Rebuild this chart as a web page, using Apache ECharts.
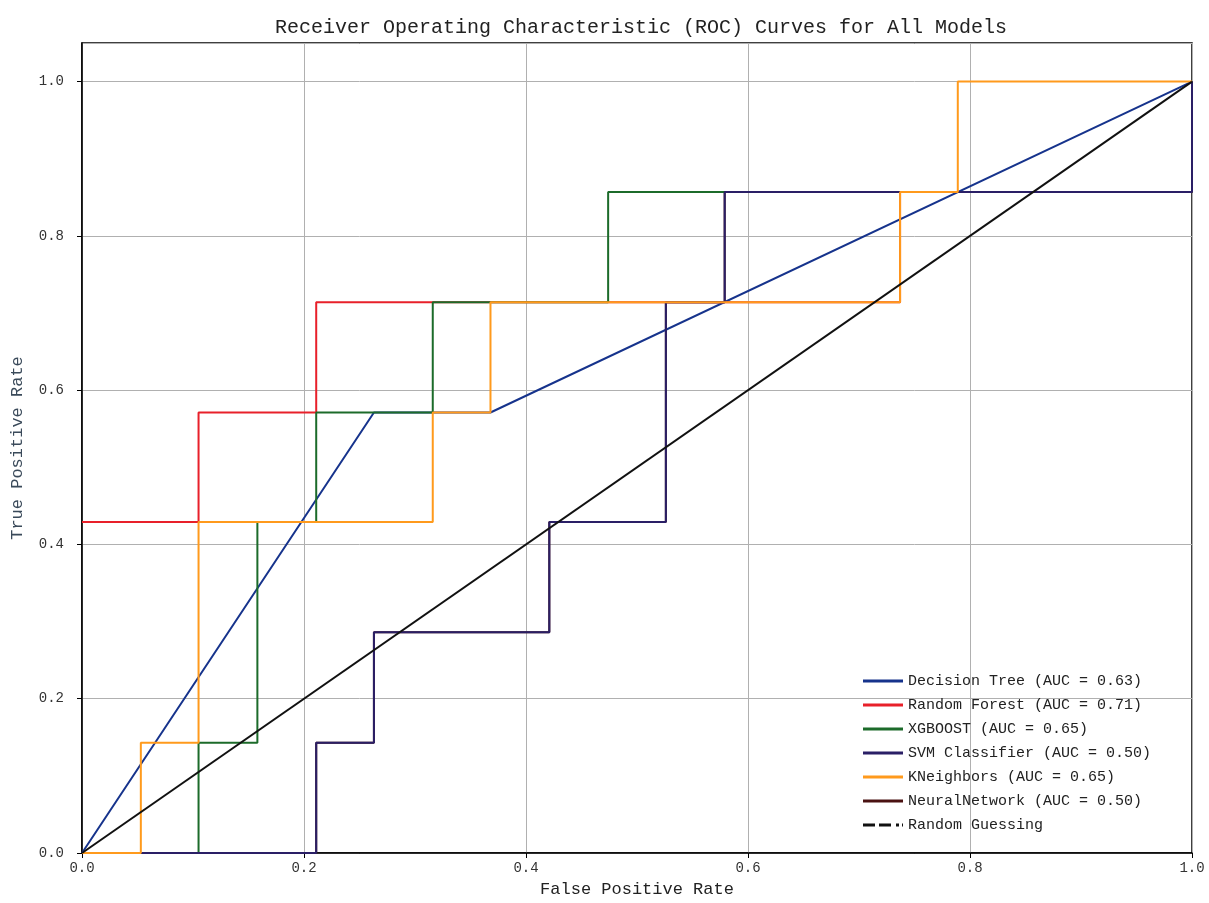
<!DOCTYPE html>
<html><head><meta charset="utf-8">
<script src="https://cdn.jsdelivr.net/npm/echarts@6/dist/echarts.min.js"></script>
<style>html,body{margin:0;padding:0;background:#fff}#c{width:1209px;height:903px}</style>
</head><body><div id="c"></div>
<script>
const titleText = 'Receiver Operating Characteristic (ROC) Curves for All Models';
const modelNames = ['Decision Tree (AUC = 0.63)','Random Forest (AUC = 0.71)','XGBOOST (AUC = 0.65)','SVM Classifier (AUC = 0.50)','KNeighbors (AUC = 0.65)','NeuralNetwork (AUC = 0.50)','Random Guessing'];
const modelColors = ['#16338c','#e8202a','#1c6b2a','#2a1f66','#ff9a1c','#4a1212','#111111'];

const dtFpr  = [0, 0.263, 0.368, 1];
const dtTpr  = [0, 0.571, 0.571, 1];
const rfFpr  = [0, 0.105, 0.105, 0.211, 0.211, 0.737, 0.737, 1, 1];
const rfTpr  = [0.429, 0.429, 0.571, 0.571, 0.714, 0.714, 0.857, 0.857, 1];
const xgbFpr = [0, 0.105, 0.105, 0.158, 0.158, 0.211, 0.211, 0.316, 0.316, 0.474, 0.474, 1, 1];
const xgbTpr = [0, 0, 0.143, 0.143, 0.429, 0.429, 0.571, 0.571, 0.714, 0.714, 0.857, 0.857, 1];
const svmFpr = [0, 0.211, 0.211, 0.263, 0.263, 0.421, 0.421, 0.526, 0.526, 0.579, 0.579, 1, 1];
const svmTpr = [0, 0, 0.143, 0.143, 0.286, 0.286, 0.429, 0.429, 0.714, 0.714, 0.857, 0.857, 1];
const knnFpr = [0, 0.053, 0.053, 0.105, 0.105, 0.316, 0.316, 0.368, 0.368, 0.737, 0.737, 0.789, 0.789, 1];
const knnTpr = [0, 0, 0.143, 0.143, 0.429, 0.429, 0.571, 0.571, 0.714, 0.714, 0.857, 0.857, 1, 1];
const nnFpr  = [0, 0.211, 0.211, 0.263, 0.263, 0.421, 0.421, 0.526, 0.526, 0.579, 0.579, 1, 1];
const nnTpr  = [0, 0, 0.143, 0.143, 0.286, 0.286, 0.429, 0.429, 0.714, 0.714, 0.857, 0.857, 1];
const rndFpr = [0, 1];
const rndTpr = [0, 1];

const allFpr = [dtFpr, rfFpr, xgbFpr, svmFpr, knnFpr, nnFpr, rndFpr];
const allTpr = [dtTpr, rfTpr, xgbTpr, svmTpr, knnTpr, nnTpr, rndTpr];

const mono = '"Liberation Mono", "DejaVu Sans Mono", monospace';

const series = modelNames.map((name, i) => ({
  name: name,
  type: 'line',
  symbol: 'none',
  data: allFpr[i].map((x, k) => [x, allTpr[i][k]]),
  lineStyle: { color: modelColors[i], width: 2, type: 'solid' },
  itemStyle: { color: modelColors[i] },
  z: i === 5 ? 1 : (i === 6 ? 4 : 2),
  animation: false
}));

const solidIcon = 'path://M0,0 L40,0 L40,3 L0,3 Z';
const dashIcon = 'path://M0,0 L12,0 L12,3 L0,3 Z M16,0 L28,0 L28,3 L16,3 Z M33,0 L36,0 L36,3 L33,3 Z M39,0 L40,0 L40,3 L39,3 Z';

const chart = echarts.init(document.getElementById('c'));
chart.setOption({
  backgroundColor: '#fff',
  animation: false,
  title: {
    text: titleText,
    left: 270,
    top: 13,
    textStyle: { fontFamily: mono, fontSize: 20, fontWeight: 'normal', color: '#222' }
  },
  grid: { left: 82, right: 17, top: 43, bottom: 50, show: true, borderColor: '#000', borderWidth: 1.5, backgroundColor: 'transparent' },
  legend: {
    orient: 'vertical',
    left: 858,
    top: 668,
    itemWidth: 40,
    itemHeight: 3,
    itemGap: 8,
    textStyle: { fontFamily: mono, fontSize: 15, color: '#222', lineHeight: 16 },
    data: modelNames.map((n, i) => ({ name: n, icon: i === 6 ? dashIcon : solidIcon }))
  },
  xAxis: {
    type: 'value', min: 0, max: 1, interval: 0.2,
    name: 'False Positive Rate', nameLocation: 'middle', nameGap: 28,
    nameTextStyle: { fontFamily: mono, fontSize: 17, color: '#222' },
    axisLine: { show: true, lineStyle: { color: '#000', width: 1.5 } },
    axisTick: { show: true, inside: false, length: 5, lineStyle: { color: '#000' } },
    axisLabel: { fontFamily: mono, fontSize: 14, color: '#333', margin: 8, formatter: v => v.toFixed(1) },
    splitLine: { show: true, lineStyle: { color: '#b0b0b0', width: 1 } }
  },
  yAxis: {
    type: 'value', min: 0, max: 1.05, interval: 0.2,
    name: 'True Positive Rate', nameLocation: 'middle', nameGap: 56,
    nameTextStyle: { fontFamily: mono, fontSize: 17, color: '#3a4a5a' },
    axisLine: { show: true, lineStyle: { color: '#000', width: 1.5 } },
    axisTick: { show: true, inside: false, length: 5, lineStyle: { color: '#000' } },
    axisLabel: { fontFamily: mono, fontSize: 14, color: '#333', margin: 18, showMaxLabel: false, formatter: v => v.toFixed(1) },
    splitLine: { show: true, lineStyle: { color: '#b0b0b0', width: 1 } }
  },
  series: series
});
</script>
</body></html>
